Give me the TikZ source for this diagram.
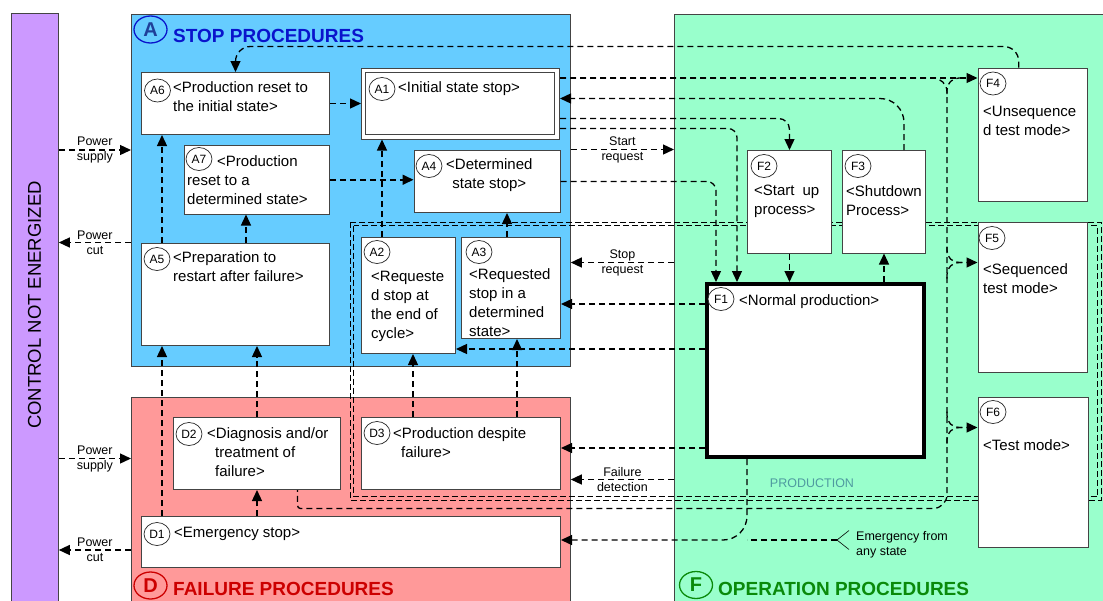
\documentclass[tikz,border=0pt]{standalone}
\usepackage{fontspec}
\setmainfont{Liberation Sans}
\usepackage{tikz}
\usetikzlibrary{shapes.geometric, arrows.meta, positioning, calc}
\definecolor{lilac}{HTML}{CC99FF}
\definecolor{skyzone}{HTML}{66CCFF}
\definecolor{rosezone}{HTML}{FF9999}
\definecolor{mintzone}{HTML}{99FFCC}
\definecolor{stopblue}{HTML}{0A14CC}
\definecolor{stopnavy}{HTML}{1F3F99}
\definecolor{failred}{HTML}{CC0000}
\definecolor{opgreen}{HTML}{0A8A0A}
\definecolor{prodteal}{HTML}{4F9AA0}
\definecolor{edge}{HTML}{444444}

\begin{document}
\begin{tikzpicture}[
    x=1pt, y=-1pt,
    zone/.style={rectangle, draw=edge, line width=0.8pt, anchor=north west, inner sep=0pt},
    stepbox/.style={rectangle, draw=edge, line width=1pt, fill=white, anchor=north west, inner sep=0pt},
    idtag/.style={ellipse, draw=black!85, line width=0.7pt, fill=white, minimum width=26pt, minimum height=23pt, inner sep=0pt, font=\fontsize{12}{12}\selectfont},
    bigtag/.style={ellipse, line width=1.3pt, minimum width=33pt, minimum height=27pt, inner sep=0pt, font=\fontsize{20}{20}\selectfont\bfseries},
    title/.style={anchor=base west, inner sep=0pt, font=\fontsize{19}{19}\selectfont\bfseries},
    boxtext/.style={anchor=north west, inner sep=0pt, align=left, font=\fontsize{15}{19}\selectfont},
    sidenote/.style={align=center, inner sep=0pt, font=\fontsize{12.5}{15}\selectfont},
    flowline/.style={line width=1.3pt, dash pattern=on 6pt off 4pt},
    flowarrow/.style={flowline, -{Triangle[length=11pt, width=10pt]}},
    prodline/.style={line width=1pt, dash pattern=on 6pt off 3pt},
  ]
  \useasboundingbox (0,0) rectangle (1103,600);

  \node[zone, fill=lilac, minimum width=47pt, minimum height=600pt] (ctrl) at (11,13) {};
  \node[rotate=90, font=\fontsize{18.5}{18.5}\selectfont] (ctrltxt) at (34.5,305) {CONTROL NOT ENERGIZED};
  \node[zone, fill=skyzone, minimum width=439pt, minimum height=352pt] (zoneA) at (131,14) {};
  \node[zone, fill=rosezone, minimum width=439pt, minimum height=220pt] (zoneD) at (131,397) {};
  \node[zone, fill=mintzone, minimum width=440pt, minimum height=600pt] (zoneF) at (674,14) {};

  \node[bigtag, draw=stopblue, text=stopnavy] (Atag) at (150.5,29.5) {A};
  \node[title, text=stopblue] (Atitle) at (173,42) {STOP PROCEDURES};
  \node[bigtag, draw=failred, text=failred] (Dtag) at (150.5,585.5) {D};
  \node[title, text=failred] (Dtitle) at (173,595) {FAILURE PROCEDURES};
  \node[bigtag, draw=opgreen, text=opgreen] (Ftag) at (696,585) {F};
  \node[title, text=opgreen] (Ftitle) at (718,595) {OPERATION PROCEDURES};

  \draw[prodline] (350,222) rectangle (1101,500);
  \draw[prodline] (353.5,225.5) rectangle (1097.5,496.5);
  \node[font=\fontsize{12.5}{12.5}\selectfont, text=prodteal] (prodlabel) at (812,483) {PRODUCTION};

  \node[stepbox, minimum width=188pt, minimum height=62pt] (A6) at (141,72) {};
  \node[idtag] (A6tag) at (157.5,90.5) {A6};
  \node[boxtext] (A6txt) at (173,81) {<Production reset to\\the initial state>};

  \node[stepbox, minimum width=198pt, minimum height=71pt] (A1) at (361,67.5) {};
  \draw[draw=edge, line width=1pt] ([shift={(4.5pt,-4.5pt)}]A1.north west) rectangle ([shift={(-5.5pt,5pt)}]A1.south east);
  \node[idtag] (A1tag) at (382,89) {A1};
  \node[boxtext] (A1txt) at (398,81) {<Initial state stop>};

  \node[stepbox, minimum width=145.5pt, minimum height=68.5pt] (A7) at (183.5,145) {};
  \node[idtag] (A7tag) at (199,159) {A7};
  \node[boxtext] (A7txt) at (187,155) {\hspace*{30pt}<Production\\reset to a\\determined state>};

  \node[stepbox, minimum width=146pt, minimum height=62pt] (A4) at (413.5,150) {};
  \node[idtag] (A4tag) at (429,166) {A4};
  \node[boxtext, align=center] (A4txt) at (446,158) {<Determined\\state stop>};

  \node[stepbox, minimum width=188pt, minimum height=102.5pt] (A5) at (141,242.5) {};
  \node[idtag] (A5tag) at (157,259) {A5};
  \node[boxtext] (A5txt) at (173,251) {<Preparation to\\restart after failure>};

  \node[stepbox, minimum width=94pt, minimum height=116pt] (A2) at (361,237) {};
  \node[idtag] (A2tag) at (377,252) {A2};
  \node[boxtext] (A2txt) at (371,271) {<Requeste\\d stop at\\the end of\\cycle>};

  \node[stepbox, minimum width=99pt, minimum height=101pt] (A3) at (461,237) {};
  \node[idtag] (A3tag) at (479,252) {A3};
  \node[boxtext] (A3txt) at (469,268) {<Requested\\stop in a\\determined\\state>};

  \node[stepbox, minimum width=167pt, minimum height=72pt] (D2) at (173,417) {};
  \node[idtag] (D2tag) at (189,434) {D2};
  \node[boxtext] (D2txt) at (207,427) {<Diagnosis and/or\\\hspace*{8pt}treatment of\\\hspace*{8pt}failure>};

  \node[stepbox, minimum width=199pt, minimum height=72pt] (D3) at (361,417) {};
  \node[idtag] (D3tag) at (377,433) {D3};
  \node[boxtext] (D3txt) at (393,427) {<Production despite\\\hspace*{8pt}failure>};

  \node[stepbox, minimum width=419pt, minimum height=51pt] (D1) at (141,516) {};
  \node[idtag] (D1tag) at (157,534) {D1};
  \node[boxtext] (D1txt) at (174,527) {<Emergency stop>};

  \node[stepbox, minimum width=84pt, minimum height=102.5pt] (F2) at (747,150) {};
  \node[idtag] (F2tag) at (764,166) {F2};
  \node[boxtext] (F2txt) at (754,185) {<Start\hspace{8pt}up\\process>};

  \node[stepbox, minimum width=83pt, minimum height=102.5pt] (F3) at (842,150) {};
  \node[idtag] (F3tag) at (858,166) {F3};
  \node[boxtext] (F3txt) at (846,185) {<Shutdown\\Process>};

  \node[stepbox, minimum width=109.5pt, minimum height=133.5pt] (F4) at (977.5,67.5) {};
  \node[idtag] (F4tag) at (993,83.5) {F4};
  \node[boxtext] (F4txt) at (983,106) {<Unsequence\\d test mode>};

  \node[stepbox, minimum width=109.5pt, minimum height=150pt] (F5) at (977.5,222) {};
  \node[idtag] (F5tag) at (992,238) {F5};
  \node[boxtext] (F5txt) at (983,263) {<Sequenced\\test mode>};

  \node[stepbox, minimum width=110.5pt, minimum height=150pt] (F6) at (977.5,397) {};
  \node[idtag] (F6tag) at (993,412) {F6};
  \node[boxtext] (F6txt) at (983,439) {<Test mode>};

  \node[stepbox, draw=black, line width=4pt, minimum width=217pt, minimum height=173pt] (F1) at (705,282) {};
  \node[idtag] (F1tag) at (721,299) {F1};
  \node[boxtext] (F1txt) at (739,294) {<Normal production>};

  \coordinate (busTop) at (947,78);
  \coordinate (busBot) at (947,508.5);
  \coordinate (tapF5) at (947,262.5);
  \coordinate (tapF6) at (947,427.5);
  \coordinate (emerg) at (837,540);
  \coordinate (emergjoin) at (747,540);
  \coordinate (a2up) at ([xshift=21pt]A2.north west);
  \coordinate (a3up) at ([xshift=46pt]A3.north west);
  \coordinate (a5up) at ([xshift=21pt]A5.north west);
  \coordinate (a5mid) at ([xshift=105pt]A5.north west);
  \coordinate (d1up) at ([xshift=21pt]D1.north west);
  \coordinate (d3a) at ([xshift=52pt]D3.north west);
  \coordinate (d3b) at ([xshift=156pt]D3.north west);

  \draw[flowarrow] (ctrl.east |- 0,150) -- node[sidenote]{Power\\supply} (zoneA.west |- 0,150);
  \draw[flowarrow] (zoneA.west |- 0,242.5) -- node[sidenote]{Power\\cut} (ctrl.east |- 0,242.5);
  \draw[flowarrow] (ctrl.east |- 0,458.5) -- node[sidenote]{Power\\supply} (zoneD.west |- 0,458.5);
  \draw[flowarrow] (zoneD.west |- 0,550) -- node[sidenote]{Power\\cut} (ctrl.east |- 0,550);

  \draw[flowarrow, rounded corners=15pt] ([xshift=-14pt]F4.north) |- (A6.north |- 0,46.5) -- (A6.north);
  \draw[flowarrow] (A6.east) -- (A1.west);
  \draw[flowarrow, line width=1.7pt] (A7.east) -- (A7.east -| A4.west);
  \draw[flowarrow] (A1.east |- busTop) -- (F4.west |- busTop);
  \draw[flowline, rounded corners=14pt] (A1.east |- busTop) -- (busTop) -- (busBot) [rounded corners=3pt] -| ([xshift=40.5pt]D2.south);
  \draw[flowline, rounded corners=12pt] ([yshift=-16pt]busTop) -- (busTop) -- ([xshift=16pt]busTop);
  \draw[flowarrow, rounded corners=12pt] ([yshift=16pt]tapF5) -- (tapF5) -- (F5.west |- tapF5);
  \draw[flowline, rounded corners=12pt] ([yshift=-16pt]tapF5) -- (tapF5) -- ([xshift=16pt]tapF5);
  \draw[flowarrow, rounded corners=12pt] ([yshift=16pt]tapF6) -- (tapF6) -- (F6.west |- tapF6);
  \draw[flowline, rounded corners=12pt] ([yshift=-16pt]tapF6) -- (tapF6) -- ([xshift=16pt]tapF6);
  \draw[flowarrow, rounded corners=24pt] ([xshift=20pt]F3.north) |- (A1.east |- 0,98.5);
  \draw[flowarrow, rounded corners=11pt] (A1.east |- 0,118.5) -| (F2.north);
  \draw[flowarrow, rounded corners=9pt] (A1.east |- 0,128.5) -| ([xshift=32pt]F1.north west);
  \draw[flowarrow, rounded corners=9pt] (A4.east) -| ([xshift=11pt]F1.north west);
  \draw[flowarrow] (zoneA.east |- 0,149.5) -- node[sidenote]{Start\\request} (zoneF.west |- 0,149.5);
  \draw[flowarrow] (zoneF.west |- 0,262.5) -- node[sidenote]{Stop\\request} (zoneA.east |- 0,262.5);
  \draw[flowarrow] (F1.west |- 0,304) -- (A3.east |- 0,304);
  \draw[flowarrow] (F1.west |- 0,349) -- (A2.east |- 0,349);
  \draw[flowarrow] (F1.west |- 0,448) -- (D3.east |- 0,448);
  \draw[flowarrow] (zoneF.west |- 0,479.5) -- node[sidenote]{Failure\\detection} (zoneD.east |- 0,479.5);
  \draw[flowarrow, rounded corners=24pt] (emergjoin |- F1.south) -- (emergjoin) -- (D1.east |- emerg);
  \draw[flowline] (emerg) -- (emergjoin);
  \draw[line width=0.6pt] ([shift={(12pt,9.5pt)}]emerg) -- (emerg) -- ([shift={(12pt,-9.5pt)}]emerg);
  \node[anchor=west, align=left, inner sep=0pt, font=\fontsize{12.5}{15}\selectfont] (emergtxt) at (856,544.5) {Emergency from\\any state};

  \draw[flowarrow] (a2up) -- (a2up |- A1.south);
  \draw[flowarrow] (a3up) -- (a3up |- A4.south);
  \draw[flowarrow] (a5up) -- (a5up |- A6.south);
  \draw[flowarrow] (a5mid) -- (a5mid |- A7.south);
  \draw[flowarrow] (d1up) -- (d1up |- A5.south);
  \draw[flowarrow] (D2.south |- D1.north) -- (D2.south);
  \draw[flowarrow] (D2.north) -- (D2.north |- A5.south);
  \draw[flowarrow] (d3a) -- (d3a |- A2.south);
  \draw[flowarrow] (d3b) -- (d3b |- A3.south);
  \draw[flowarrow] (F2.south) -- (F2.south |- F1.north);
  \draw[flowarrow] (F3.south |- F1.north) -- (F3.south);
\end{tikzpicture}
\end{document}
